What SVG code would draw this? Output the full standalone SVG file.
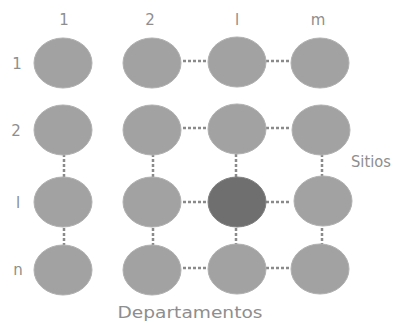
<svg xmlns="http://www.w3.org/2000/svg" width="393" height="324" viewBox="0 0 393 324">
<style>
.n{fill:#a2a2a2;stroke:#b0b0b0;stroke-width:1}
.d{fill:#6f6f6f;stroke:#808080;stroke-width:1}
.t{font-family:"DejaVu Sans",sans-serif;font-size:15px;fill:#8e8e8e;text-anchor:middle}
.c{stroke:#8a8a8a;stroke-width:2.5;stroke-dasharray:3 2;fill:none}
</style>
<rect width="393" height="324" fill="#fff"/>
<g id="labels">
<text class="t" x="64" y="25">1</text>
<text class="t" x="150" y="25">2</text>
<text class="t" x="237" y="25">l</text>
<text class="t" x="318" y="25">m</text>
<text class="t" x="17" y="69">1</text>
<text class="t" x="16" y="136">2</text>
<text class="t" x="18" y="208">l</text>
<text class="t" x="18" y="275">n</text>
<text class="t" x="371" y="167" textLength="40" lengthAdjust="spacingAndGlyphs">Sitios</text>
<text class="t" x="190" y="318" textLength="145" lengthAdjust="spacingAndGlyphs">Departamentos</text>
</g>
<g id="connectors">
<line class="c" x1="183" y1="61" x2="208" y2="61"/>
<line class="c" x1="266" y1="61" x2="291" y2="61"/>
<line class="c" x1="183" y1="128" x2="208" y2="128"/>
<line class="c" x1="266" y1="128" x2="291" y2="128"/>
<line class="c" x1="183" y1="202" x2="208" y2="202"/>
<line class="c" x1="266" y1="202" x2="291" y2="202"/>
<line class="c" x1="183" y1="268" x2="208" y2="268"/>
<line class="c" x1="266" y1="268" x2="291" y2="268"/>
<line class="c" x1="64" y1="154" x2="64" y2="178"/>
<line class="c" x1="153" y1="154" x2="153" y2="178"/>
<line class="c" x1="236" y1="154" x2="236" y2="178"/>
<line class="c" x1="322" y1="154" x2="322" y2="178"/>
<line class="c" x1="64" y1="228" x2="64" y2="245"/>
<line class="c" x1="153" y1="228" x2="153" y2="245"/>
<line class="c" x1="236" y1="228" x2="236" y2="245"/>
<line class="c" x1="322" y1="228" x2="322" y2="245"/>
</g>
<g id="n11"><ellipse class="n" cx="63" cy="63" rx="29" ry="25"/></g>
<g id="n12"><ellipse class="n" cx="152" cy="63" rx="29" ry="25"/></g>
<g id="n1l"><ellipse class="n" cx="237" cy="62" rx="29" ry="25"/></g>
<g id="n1m"><ellipse class="n" cx="320" cy="63" rx="29" ry="25"/></g>
<g id="n21"><ellipse class="n" cx="63" cy="130" rx="29" ry="25"/></g>
<g id="n22"><ellipse class="n" cx="152" cy="130" rx="29" ry="25"/></g>
<g id="n2l"><ellipse class="n" cx="237" cy="129" rx="29" ry="25"/></g>
<g id="n2m"><ellipse class="n" cx="321" cy="130" rx="29" ry="25"/></g>
<g id="nl1"><ellipse class="n" cx="63" cy="202" rx="29" ry="25"/></g>
<g id="nl2"><ellipse class="n" cx="152" cy="202" rx="29" ry="25"/></g>
<g id="nll"><ellipse class="d" cx="237" cy="202" rx="29" ry="25"/></g>
<g id="nlm"><ellipse class="n" cx="323" cy="201" rx="29" ry="25"/></g>
<g id="nn1"><ellipse class="n" cx="63" cy="270" rx="29" ry="25"/></g>
<g id="nn2"><ellipse class="n" cx="152" cy="270" rx="29" ry="25"/></g>
<g id="nnl"><ellipse class="n" cx="237" cy="269" rx="29" ry="25"/></g>
<g id="nnm"><ellipse class="n" cx="320" cy="269" rx="29" ry="25"/></g>
</svg>
